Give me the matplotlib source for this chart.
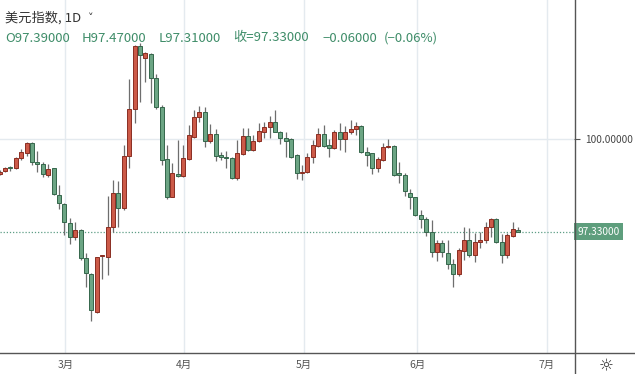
import numpy as np
import matplotlib.pyplot as plt
from matplotlib.lines import Line2D

plt.rcParams['font.family'] = ['Noto Sans CJK SC', 'DejaVu Sans']

# 美元指数 日线 OHLC (2月中 ~ 6月下旬)
opens = [98.99, 99.09, 99.18, 99.16, 99.45, 99.61, 99.90, 99.33, 99.27, 98.95,
         99.16, 98.39, 98.13, 97.59, 97.18, 97.38, 96.58, 96.11, 95.02, 96.62,
         96.59, 97.46, 98.44, 98.00, 99.52, 100.86, 102.68, 102.35, 102.45, 101.77,
         100.93, 99.43, 98.34, 98.98, 98.93, 99.43, 100.07, 100.63, 100.79, 99.94,
         100.14, 99.54, 99.49, 99.46, 98.87, 99.56, 100.09, 99.68, 99.95, 100.21,
         100.34, 100.50, 100.21, 100.04, 99.99, 99.54, 99.02, 99.04, 99.47, 99.81,
         100.16, 99.83, 99.73, 100.21, 99.99, 100.21, 100.29, 100.37, 99.63, 99.59,
         99.16, 99.39, 99.76, 99.81, 99.01, 98.96, 98.45, 98.32, 97.80, 97.69,
         97.33, 96.75, 96.99, 96.71, 96.39, 96.10, 96.78, 97.10, 96.67, 97.02,
         97.09, 97.46, 97.69, 97.04, 96.66, 97.21, 97.39]
highs = [99.11, 99.18, 99.22, 99.49, 99.70, 99.92, 99.92, 99.66, 99.35, 99.27,
         99.17, 98.67, 98.15, 97.71, 97.62, 97.40, 96.72, 96.13, 96.61, 96.66,
         98.36, 98.82, 98.80, 99.83, 101.72, 102.71, 102.76, 102.52, 102.49, 101.89,
         100.98, 99.83, 99.32, 99.97, 99.83, 100.40, 100.84, 100.95, 100.93, 100.42,
         100.29, 99.62, 99.65, 99.49, 99.97, 100.31, 100.31, 100.12, 100.45, 100.50,
         100.67, 100.84, 100.23, 100.21, 100.02, 99.56, 99.25, 99.59, 99.97, 100.31,
         100.40, 99.99, 100.26, 100.45, 100.37, 100.55, 100.50, 100.40, 99.76, 99.61,
         99.49, 99.89, 99.99, 99.83, 99.35, 99.01, 98.55, 98.34, 97.95, 97.74,
         97.67, 97.09, 97.09, 97.09, 96.53, 96.85, 97.45, 97.43, 97.28, 97.33,
         97.60, 97.71, 97.71, 97.26, 97.28, 97.62, 97.47]
lows = [98.96, 99.04, 99.09, 99.13, 99.39, 99.52, 99.25, 99.06, 98.91, 98.91,
        98.39, 97.97, 97.23, 96.97, 97.09, 96.51, 95.74, 94.76, 94.99, 95.96,
        96.08, 97.33, 97.47, 97.95, 99.16, 100.45, 101.07, 101.65, 101.05, 100.88,
        99.25, 98.26, 98.32, 98.91, 98.91, 99.39, 100.02, 100.50, 99.78, 99.88,
        99.37, 99.39, 99.16, 98.85, 98.82, 99.54, 99.65, 99.65, 99.92, 100.04,
        100.04, 100.19, 99.85, 99.49, 99.45, 98.85, 98.82, 99.01, 99.32, 99.76,
        99.78, 99.47, 99.70, 99.68, 99.63, 100.16, 100.12, 99.61, 99.22, 98.99,
        99.06, 99.37, 99.73, 98.93, 98.73, 98.36, 97.97, 97.78, 97.44, 97.21,
        96.61, 96.48, 96.61, 96.24, 95.74, 96.05, 96.51, 96.59, 96.46, 96.85,
        96.99, 97.17, 97.01, 96.42, 96.56, 97.18, 97.31]
closes = [99.06, 99.16, 99.16, 99.46, 99.62, 99.90, 99.35, 99.27, 98.98, 99.14,
          98.41, 98.15, 97.60, 97.18, 97.38, 96.56, 96.13, 95.07, 96.59, 96.64,
          97.46, 98.44, 98.00, 99.52, 100.88, 102.68, 102.42, 102.47, 101.77, 100.93,
          99.41, 98.32, 99.01, 98.93, 99.44, 100.12, 100.63, 100.79, 99.94, 100.14,
          99.52, 99.47, 99.46, 98.88, 99.59, 100.09, 99.68, 99.95, 100.23, 100.34,
          100.50, 100.21, 100.02, 99.95, 99.49, 99.01, 99.05, 99.49, 99.83, 100.16,
          99.81, 99.73, 100.21, 99.99, 100.21, 100.29, 100.37, 99.63, 99.54, 99.16,
          99.42, 99.78, 99.81, 98.97, 98.95, 98.50, 98.32, 97.81, 97.69, 97.33,
          96.75, 96.99, 96.73, 96.39, 96.10, 96.80, 97.10, 96.67, 97.02, 97.10,
          97.46, 97.69, 97.04, 96.66, 97.23, 97.40, 97.33]

month_labels = ['3月', '4月', '5月', '6月', '7月']
month_pos = [12.2, 34.1, 56.3, 77.3, 101.3]   # 每月第一个交易日所在位置
last_price = 97.33

up_col, up_edge = '#cc5a48', '#8a2e22'
dn_col, dn_edge = '#6ca584', '#35664b'
grid_col = '#e4eaef'

o = np.array(opens); h = np.array(highs); l = np.array(lows); c = np.array(closes)
x = np.arange(len(o))
up = c >= o

fig = plt.figure(figsize=(6.35, 3.74), dpi=100)
ax = fig.add_axes([0, 21 / 374, 574 / 635, 1 - 21 / 374])

for xp in month_pos:
    ax.axvline(xp, color=grid_col, lw=1, zorder=0)
ax.axhline(100, color=grid_col, lw=1, zorder=0)

ax.vlines(x, l, h, color='#6e6e6e', lw=0.9, zorder=2)
body_lo = np.minimum(o, c)
body_h = np.maximum(np.abs(c - o), 0.03)
ax.bar(x[up], body_h[up], bottom=body_lo[up], width=0.74,
       color=up_col, edgecolor=up_edge, linewidth=0.7, zorder=3)
ax.bar(x[~up], body_h[~up], bottom=body_lo[~up], width=0.74,
       color=dn_col, edgecolor=dn_edge, linewidth=0.7, zorder=3)

ax.axhline(last_price, color='#5e9e86', lw=0.9, ls=(0, (1, 1.5)), zorder=1)

ax.set_xlim(0.07, 106.37)
ax.set_ylim(93.83, 104.01)
for s in ax.spines.values():
    s.set_visible(False)
ax.set_xticks([])
ax.yaxis.tick_right()
ax.set_yticks([100])
ax.set_yticklabels(['100.00000'])
ax.tick_params(axis='y', length=4, width=0.8, color='#555555', labelcolor='#444444',
               labelsize=7.3, pad=4)

# 当前价格标签
ax.text(1.006, last_price, f'{last_price:.5f}', transform=ax.get_yaxis_transform(),
        ha='left', va='center', fontsize=7.3, color='white',
        bbox=dict(boxstyle='square,pad=0.35', fc='#5e9e7d', ec='none'))

# 月份标签
for xp, lab in zip(month_pos, month_labels):
    ax.text(xp, -0.035, lab, transform=ax.get_xaxis_transform(), ha='center',
            va='center', fontsize=7.5, color='#555555', clip_on=False)

# 边框线
fig.add_artist(Line2D([0, 1], [21 / 374, 21 / 374], color='#555555', lw=1))
fig.add_artist(Line2D([575 / 635, 575 / 635], [0, 1], color='#555555', lw=1))
fig.text(606 / 635, 8 / 374, '☼', ha='center', va='center', fontsize=12,
         color='#333333', family='DejaVu Sans')

# 标题
fig.text(5 / 635, 1 - 18 / 374, '美元指数, 1D', ha='left', va='center',
         fontsize=9.5, color='#333333')
fig.text(88 / 635, 1 - 18 / 374, '˅', ha='left', va='center', fontsize=8,
         color='#333333', family='DejaVu Sans')
info = [('O97.39000', 5), ('H97.47000', 81.7), ('L97.31000', 158.3),
        ('收=97.33000', 233.3), ('−0.06000', 322.7), ('(−0.06%)', 383.3)]
for txt, xp in info:
    fig.text(xp / 635, 1 - 38 / 374, txt, ha='left', va='center', fontsize=9.5,
             color='#3f8d69')

fig.savefig('out.png', dpi=100, facecolor='white')
